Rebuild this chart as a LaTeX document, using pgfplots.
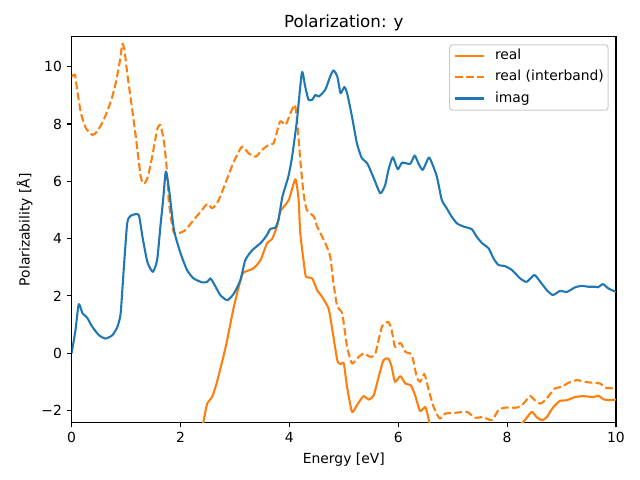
\documentclass[border=0pt]{standalone}
\usepackage{fontspec}
\setmainfont{DejaVu Sans}
\usepackage{pgfplots}
\pgfplotsset{compat=1.18}
\definecolor{C0}{HTML}{1F77B4}
\definecolor{C1}{HTML}{FF7F0E}
\definecolor{legedge}{HTML}{CCCCCC}
\begin{document}
\begin{tikzpicture}
\begin{axis}[
  scale only axis, width=391.9pt, height=277.6pt,
  xmin=0, xmax=10, ymin=-2.42, ymax=11.04,
  axis line style={line width=0.8pt},
  every tick/.style={line width=0.8pt, black},
  major tick length=3.5pt,
  tick align=outside, xtick pos=lower, ytick pos=left,
  xtick={0,2,4,6,8,10}, xticklabels={0,2,4,6,8,10},
  ytick={-2,0,2,4,6,8,10}, yticklabels={−2,0,2,4,6,8,10},
  ticklabel style={font=\fontsize{10}{12}\selectfont},
  title={Polarization: y},
  title style={at={(axis description cs:0.5,1)}, anchor=south, inner sep=0pt, yshift=-2pt, font=\fontsize{12}{14}\selectfont},
  xlabel={Energy [eV]},
  xlabel style={at={(axis description cs:0.5,-0.077)}, anchor=north, inner sep=0pt, font=\fontsize{10}{12}\selectfont},
  ylabel={Polarizability [Å]},
  ylabel style={at={(axis description cs:-0.0714,0.5)}, anchor=south, inner sep=0pt, rotate=0, font=\fontsize{10}{12}\selectfont},
  legend cell align=left,
  legend style={at={(1,1)}, anchor=north east, xshift=-5.3pt, yshift=-5.3pt,
    draw=legedge, line width=0.8pt, rounded corners=2pt, fill=white,
    inner xsep=3pt, inner ysep=3.2pt, row sep=5.3pt, column sep=7.3pt,
    nodes={inner sep=0pt, text height=7.5pt, text depth=2.5pt, font=\fontsize{10}{12}\selectfont}},
  legend image code/.code={\draw[#1, line width=1.5pt, rounded corners=0pt] (0pt,0.2pt) -- (20.9pt,0.2pt);},
  legend columns=1,
]
\addplot[C1, line width=1.5pt, line join=round, smooth, tension=0.35] coordinates {
(2.0,-5.5) (2.2,-4.0) (2.35,-2.9) (2.42,-2.40) (2.49,-1.76) (2.58,-1.53) (2.67,-1.00) (2.83,0.22) (2.98,1.62) (3.13,2.73) (3.22,2.87) (3.34,2.96) (3.47,3.25) (3.59,3.84) (3.68,3.98) (3.77,4.42) (3.83,4.94) (3.90,5.12) (3.99,5.35) (4.11,6.07) (4.17,5.35) (4.20,4.19) (4.29,2.79) (4.32,2.65) (4.42,2.61) (4.51,2.20) (4.60,1.97) (4.72,1.56) (4.78,0.92) (4.88,-0.24) (4.94,-0.38) (5.00,-0.36) (5.06,-1.18) (5.15,-2.05) (5.24,-1.82) (5.36,-1.50) (5.46,-1.62) (5.55,-1.47) (5.64,-0.83) (5.73,-0.24) (5.82,-0.19) (5.88,-0.48) (5.94,-1.00) (6.04,-0.80) (6.13,-1.06) (6.23,-1.12) (6.31,-1.47) (6.40,-2.02) (6.50,-1.88) (6.57,-2.40) (6.65,-2.83) (6.76,-3.2) (6.86,-3.0) (7.01,-2.95) (7.26,-2.85) (7.41,-3.0) (7.56,-2.97) (7.72,-3.05) (7.84,-2.67) (7.96,-2.56) (8.18,-2.53) (8.30,-2.40) (8.45,-2.05) (8.54,-2.23) (8.64,-2.34) (8.73,-2.23) (8.85,-1.88) (8.97,-1.67) (9.10,-1.64) (9.25,-1.53) (9.40,-1.50) (9.58,-1.53) (9.68,-1.49) (9.77,-1.61) (9.89,-1.64) (10.0,-1.62)
};
\addlegendentry{real}
\addplot[C1, line width=1.5pt, line join=round, dash pattern=on 5.55pt off 2.4pt, smooth, tension=0.35] coordinates {
(0,9.65) (0.06,9.72) (0.10,9.20) (0.17,8.38) (0.26,7.86) (0.38,7.62) (0.47,7.74) (0.59,8.15) (0.72,8.79) (0.81,9.43) (0.89,10.24) (0.93,10.80) (0.97,10.59) (1.02,9.78) (1.08,8.96) (1.17,7.68) (1.27,6.16) (1.33,5.91) (1.40,6.16) (1.48,6.86) (1.57,7.80) (1.63,7.97) (1.69,7.45) (1.74,6.6) (1.78,5.4) (1.82,4.77) (1.88,4.19) (1.97,4.19) (2.09,4.30) (2.24,4.65) (2.37,4.94) (2.49,5.21) (2.58,5.06) (2.67,5.23) (2.73,5.47) (2.86,6.11) (2.98,6.69) (3.13,7.21) (3.25,6.98) (3.38,6.86) (3.50,7.10) (3.62,7.27) (3.71,7.33) (3.83,8.09) (3.93,7.97) (4.02,8.38) (4.10,8.67) (4.14,8.15) (4.20,6.74) (4.26,5.58) (4.32,5.0) (4.45,4.77) (4.51,4.42) (4.66,3.84) (4.75,3.37) (4.81,2.44) (4.88,1.62) (4.97,1.39) (5.06,0.22) (5.15,-0.36) (5.24,-0.19) (5.36,-0.01) (5.49,-0.13) (5.58,-0.01) (5.70,0.92) (5.82,1.09) (5.88,0.80) (5.94,0.22) (6.04,0.36) (6.13,0.05) (6.25,-0.07) (6.34,-0.83) (6.40,-1.0) (6.48,-0.73) (6.56,-1.29) (6.65,-1.88) (6.76,-2.28) (6.86,-2.11) (7.01,-2.09) (7.26,-2.05) (7.41,-2.25) (7.56,-2.23) (7.72,-2.34) (7.84,-1.99) (7.96,-1.90) (8.18,-1.90) (8.30,-1.76) (8.42,-1.50) (8.51,-1.64) (8.61,-1.76) (8.70,-1.64) (8.88,-1.23) (9.00,-1.18) (9.12,-1.04) (9.28,-0.94) (9.46,-1.01) (9.61,-1.04) (9.71,-1.06) (9.80,-1.20) (9.95,-1.23) (10.0,-1.20)
};
\addlegendentry{real (interband)}
\addplot[C0, line width=1.5pt, line join=round, smooth, tension=0.35] coordinates {
(0,0) (0.07,0.80) (0.13,1.71) (0.20,1.39) (0.28,1.25) (0.38,0.92) (0.50,0.63) (0.62,0.51) (0.75,0.63) (0.84,0.92) (0.90,1.39) (0.96,3.02) (1.02,4.53) (1.08,4.79) (1.23,4.83) (1.30,4.07) (1.39,3.19) (1.49,2.84) (1.57,3.25) (1.63,4.42) (1.68,5.35) (1.73,6.34) (1.79,5.70) (1.88,4.30) (2.0,3.49) (2.12,2.90) (2.24,2.61) (2.40,2.47) (2.49,2.49) (2.55,2.61) (2.61,2.44) (2.73,2.03) (2.86,1.85) (2.98,2.08) (3.10,2.55) (3.19,3.25) (3.32,3.60) (3.47,3.84) (3.58,4.10) (3.65,4.34) (3.74,4.38) (3.80,4.65) (3.87,5.45) (3.98,6.16) (4.05,6.86) (4.14,8.15) (4.23,9.80) (4.29,9.31) (4.35,8.85) (4.42,8.85) (4.48,9.02) (4.54,8.96) (4.66,9.20) (4.75,9.66) (4.81,9.87) (4.88,9.66) (4.94,9.08) (5.01,9.29) (5.06,9.08) (5.15,8.26) (5.24,7.33) (5.33,6.81) (5.43,6.63) (5.55,6.11) (5.67,5.58) (5.76,5.87) (5.82,6.40) (5.90,6.84) (5.99,6.42) (6.07,6.65) (6.22,6.61) (6.30,6.90) (6.37,6.63) (6.45,6.40) (6.56,6.83) (6.62,6.63) (6.71,6.16) (6.80,5.35) (6.89,5.06) (6.98,4.77) (7.08,4.53) (7.20,4.42) (7.35,4.33) (7.44,4.07) (7.54,3.84) (7.66,3.66) (7.75,3.31) (7.84,3.08) (7.96,3.04) (8.09,2.90) (8.24,2.61) (8.36,2.49) (8.50,2.73) (8.61,2.49) (8.73,2.20) (8.84,2.03) (8.97,2.17) (9.10,2.14) (9.25,2.30) (9.37,2.35) (9.49,2.32) (9.61,2.32) (9.67,2.30) (9.76,2.41) (9.86,2.26) (10.0,2.14)
};
\addlegendentry{imag}
\coordinate (SW) at (rel axis cs:0,0);
\coordinate (NE) at (rel axis cs:1,1);
\end{axis}
\pgfresetboundingbox
\path[use as bounding box] ([xshift=-51.6pt,yshift=-41.4pt]SW) rectangle ([xshift=17.3pt,yshift=26.6pt]NE);
\end{tikzpicture}
\end{document}
